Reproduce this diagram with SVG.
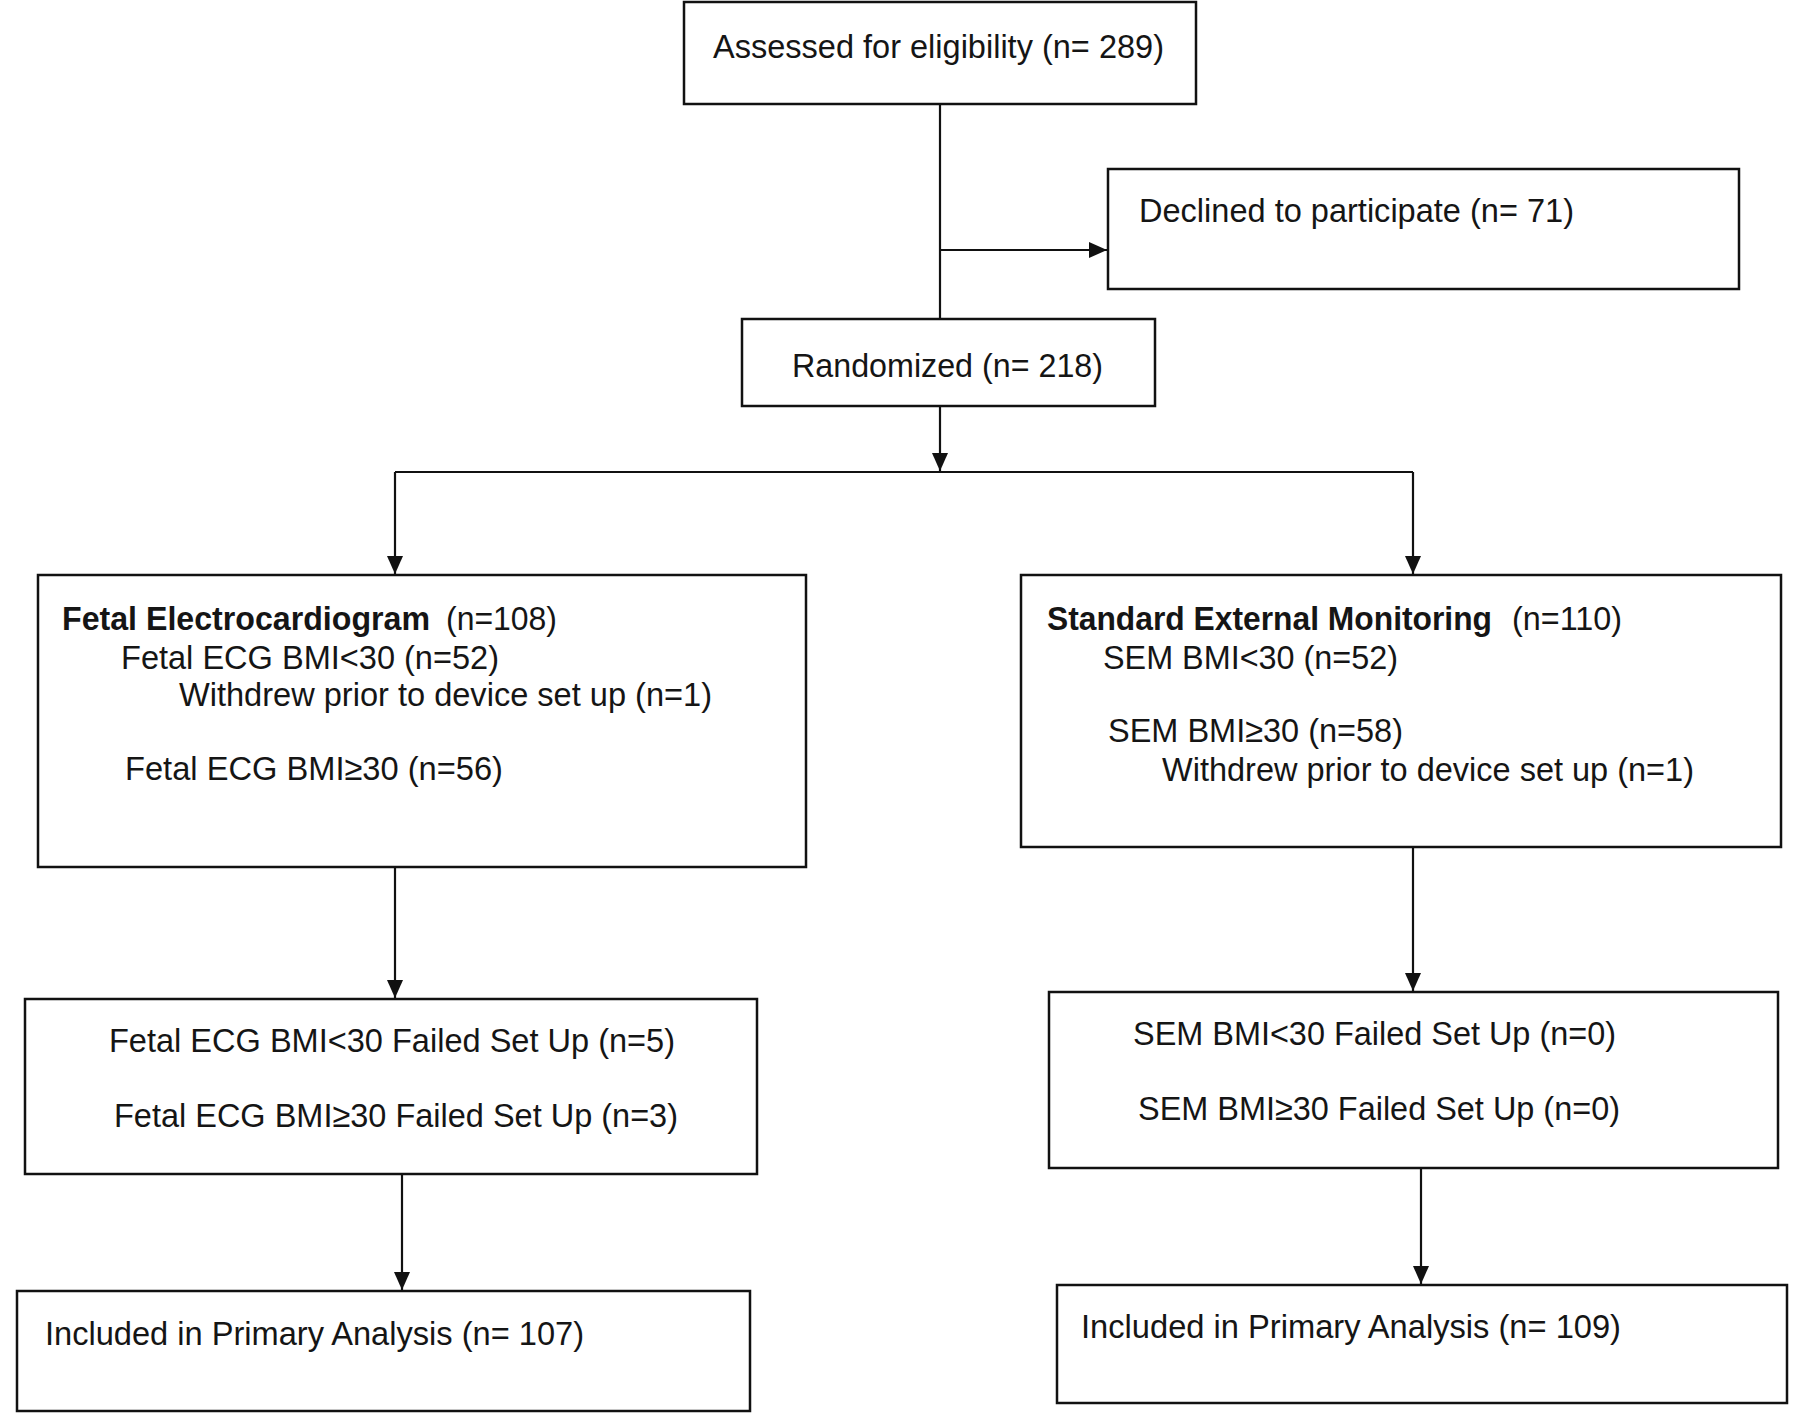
<svg xmlns="http://www.w3.org/2000/svg" width="1800" height="1428" viewBox="0 0 1800 1428">
<style>
.box{fill:#fff;stroke:#111;stroke-width:2.5}
.t{font-family:"Liberation Sans",Arial,sans-serif;font-size:34px;fill:#151515}
.b{font-weight:bold}
.c{fill:none;stroke:#111;stroke-width:2.2}
</style>
<defs>
<marker id="ah" markerUnits="userSpaceOnUse" markerWidth="20" markerHeight="20" refX="18" refY="8" orient="auto">
<path d="M0,0 L18,8 L0,16 Z" fill="#111"/>
</marker>
</defs>
<rect width="1800" height="1428" fill="#fff"/>
<g id="connectors">
<line class="c" x1="940" y1="104" x2="940" y2="319"/>
<line class="c" x1="940" y1="250" x2="1107" y2="250" marker-end="url(#ah)"/>
<line class="c" x1="940" y1="406" x2="940" y2="471" marker-end="url(#ah)"/>
<line class="c" x1="395" y1="472" x2="1413" y2="472"/>
<line class="c" x1="395" y1="472" x2="395" y2="574" marker-end="url(#ah)"/>
<line class="c" x1="1413" y1="472" x2="1413" y2="574" marker-end="url(#ah)"/>
<line class="c" x1="395" y1="867" x2="395" y2="998" marker-end="url(#ah)"/>
<line class="c" x1="1413" y1="847" x2="1413" y2="991" marker-end="url(#ah)"/>
<line class="c" x1="402" y1="1174" x2="402" y2="1290" marker-end="url(#ah)"/>
<line class="c" x1="1421" y1="1168" x2="1421" y2="1284" marker-end="url(#ah)"/>
</g>
<g id="assessed">
<rect class="box" x="684" y="2" width="512" height="102"/>
<text class="t" x="713" y="58" textLength="451" lengthAdjust="spacingAndGlyphs">Assessed for eligibility (n= 289)</text>
</g>
<g id="declined">
<rect class="box" x="1108" y="169" width="631" height="120"/>
<text class="t" x="1139" y="222" textLength="435" lengthAdjust="spacingAndGlyphs">Declined to participate (n= 71)</text>
</g>
<g id="randomized">
<rect class="box" x="742" y="319" width="413" height="87"/>
<text class="t" x="792" y="377" textLength="311" lengthAdjust="spacingAndGlyphs">Randomized (n= 218)</text>
</g>
<g id="fecg">
<rect class="box" x="38" y="575" width="768" height="292"/>
<text class="t b" x="62" y="630" textLength="368" lengthAdjust="spacingAndGlyphs">Fetal Electrocardiogram</text>
<text class="t" x="446" y="630" textLength="111" lengthAdjust="spacingAndGlyphs">(n=108)</text>
<text class="t" x="121" y="669" textLength="378" lengthAdjust="spacingAndGlyphs">Fetal ECG BMI&lt;30 (n=52)</text>
<text class="t" x="179" y="706" textLength="533" lengthAdjust="spacingAndGlyphs">Withdrew prior to device set up (n=1)</text>
<text class="t" x="125" y="780" textLength="378" lengthAdjust="spacingAndGlyphs">Fetal ECG BMI≥30 (n=56)</text>
</g>
<g id="sem">
<rect class="box" x="1021" y="575" width="760" height="272"/>
<text class="t b" x="1047" y="630" textLength="445" lengthAdjust="spacingAndGlyphs">Standard External Monitoring</text>
<text class="t" x="1512" y="630" textLength="110" lengthAdjust="spacingAndGlyphs">(n=110)</text>
<text class="t" x="1103" y="669" textLength="295" lengthAdjust="spacingAndGlyphs">SEM BMI&lt;30 (n=52)</text>
<text class="t" x="1108" y="742" textLength="295" lengthAdjust="spacingAndGlyphs">SEM BMI≥30 (n=58)</text>
<text class="t" x="1162" y="781" textLength="532" lengthAdjust="spacingAndGlyphs">Withdrew prior to device set up (n=1)</text>
</g>
<g id="fecg-failed">
<rect class="box" x="25" y="999" width="732" height="175"/>
<text class="t" x="109" y="1052" textLength="566" lengthAdjust="spacingAndGlyphs">Fetal ECG BMI&lt;30 Failed Set Up (n=5)</text>
<text class="t" x="114" y="1127" textLength="564" lengthAdjust="spacingAndGlyphs">Fetal ECG BMI≥30 Failed Set Up (n=3)</text>
</g>
<g id="sem-failed">
<rect class="box" x="1049" y="992" width="729" height="176"/>
<text class="t" x="1133" y="1045" textLength="483" lengthAdjust="spacingAndGlyphs">SEM BMI&lt;30 Failed Set Up (n=0)</text>
<text class="t" x="1138" y="1120" textLength="482" lengthAdjust="spacingAndGlyphs">SEM BMI≥30 Failed Set Up (n=0)</text>
</g>
<g id="fecg-included">
<rect class="box" x="17" y="1291" width="733" height="120"/>
<text class="t" x="45" y="1345" textLength="539" lengthAdjust="spacingAndGlyphs">Included in Primary Analysis (n= 107)</text>
</g>
<g id="sem-included">
<rect class="box" x="1057" y="1285" width="730" height="118"/>
<text class="t" x="1081" y="1338" textLength="540" lengthAdjust="spacingAndGlyphs">Included in Primary Analysis (n= 109)</text>
</g>
</svg>
